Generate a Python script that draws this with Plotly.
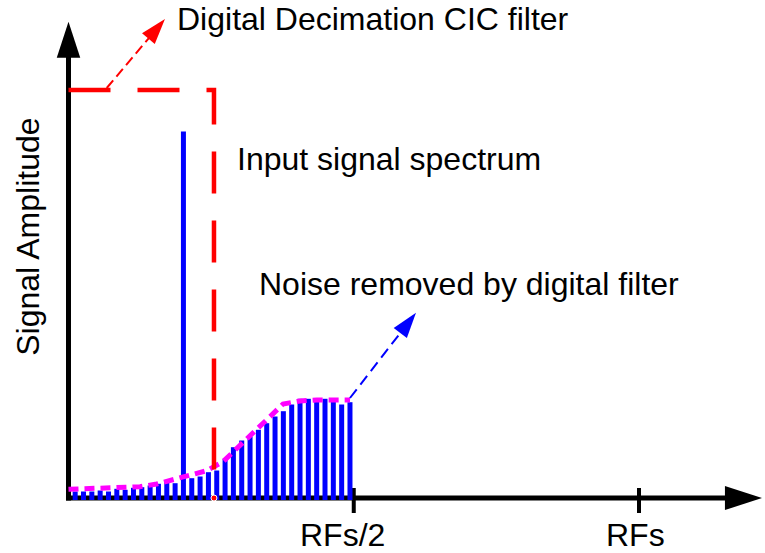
import numpy as np
import plotly.graph_objects as go

# ---------------- data (frequency in units of RFs, amplitude in arbitrary units) -------------
bin_freq = np.linspace(0.0117, 0.4934, 34)          # evenly spaced spectrum bins
bin_amp = [6.5, 6.5, 6.5, 7.5, 6.5, 9.2, 8.2, 10.2, 10.8, 12.5, 14.2, 15.8, 14.8,
           366.5, 19.8, 21.5, 25.8, 27.5, 39.2, 50.8, 57.5, 61.5, 68.2, 74.8, 81.5,
           86.8, 93.5, 99.2, 99.2, 99.2, 99.2, 99.2, 93.5, 95.8]

env_freq = [0.0, 0.0342, 0.0933, 0.1253, 0.1546, 0.1832, 0.2130, 0.2422, 0.2708,
            0.2883, 0.3094, 0.3299, 0.3532, 0.3760, 0.4058, 0.4351, 0.4934]
env_amp = [8.7, 9.3, 10.7, 11.3, 14.0, 18.0, 22.3, 27.3, 36.3, 46.3, 58.0, 68.7,
           81.3, 94.0, 97.0, 98.0, 98.0]

filter_freq = [0.0, 0.2550, 0.2550]
filter_amp = [408.0, 408.0, 0.0]

tick_vals = [0.5, 1.0]
tick_text = ["RFs/2", "RFs"]

# ---------------- layout constants ----------------
W, H = 765, 553
X0_PX, SCALE_PX, BASE_PX = 68.5, 570.5, 498.0
x_range = [-X0_PX / SCALE_PX, (W - X0_PX) / SCALE_PX]
y_range = [BASE_PX - H, BASE_PX]
X_TIP = 1.2156
Y_TIP = 476.3
FONT = dict(family="Liberation Sans, Arial, sans-serif", size=32, color="black")
BLUE, RED, MAG = "#0000FF", "#FF0000", "#FF00FF"

fig = go.Figure()


def arrow_marker(color, size):
    return dict(symbol="arrow", size=[0, size], angleref="previous", color=color,
                opacity=1, line=dict(width=0))


# axes with arrow heads
fig.add_trace(go.Scatter(x=[-0.0044, X_TIP], y=[0, 0], mode="lines+markers",
                         line=dict(color="black", width=5),
                         marker=arrow_marker("black", 39), hoverinfo="skip"))
fig.add_trace(go.Scatter(x=[0, 0], y=[-2.5, Y_TIP], mode="lines+markers",
                         line=dict(color="black", width=5),
                         marker=arrow_marker("black", 38), hoverinfo="skip"))
# tick marks
tx, ty = [], []
for v in tick_vals:
    tx += [v, v, None]
    ty += [-15, 10, None]
fig.add_trace(go.Scatter(x=tx, y=ty, mode="lines", line=dict(color="black", width=4),
                         hoverinfo="skip"))

# spectrum bars
bx, by = [], []
for f, a in zip(bin_freq, bin_amp):
    bx += [f, f, None]
    by += [-2, a, None]
fig.add_trace(go.Scatter(x=bx, y=by, mode="lines", line=dict(color=BLUE, width=5),
                         hoverinfo="skip"))

# noise envelope
fig.add_trace(go.Scatter(x=env_freq, y=env_amp, mode="lines",
                         line=dict(color=MAG, width=5, dash="10px,6px"),
                         hoverinfo="skip"))

# CIC filter response
fig.add_trace(go.Scatter(x=filter_freq, y=filter_amp, mode="lines+markers",
                         line=dict(color=RED, width=4.5, dash="42px,27px"),
                         marker=dict(size=[0, 0, 6], color=RED, opacity=1),
                         hoverinfo="skip"))

# pointer arrows
fig.add_trace(go.Scatter(x=[0.067, 0.1691], y=[410, 479], mode="lines+markers",
                         line=dict(color=RED, width=2, dash="10px,5px"),
                         marker=arrow_marker(RED, 27), hoverinfo="skip"))
fig.add_trace(go.Scatter(x=[bin_freq[-1], 0.6091], y=[100, 185.3], mode="lines+markers",
                         line=dict(color=BLUE, width=2, dash="11px,6px"),
                         marker=arrow_marker(BLUE, 27), hoverinfo="skip"))

annotations = [
    dict(x=0.1895, y=479.1, text="Digital Decimation CIC filter", xanchor="left", yanchor="middle"),
    dict(x=0.2954, y=338.8, text="Input signal spectrum", xanchor="left", yanchor="middle"),
    dict(x=0.3333, y=213.8, text="Noise removed by digital filter", xanchor="left", yanchor="middle"),
    dict(x=-0.0722, y=261.5, text="Signal Amplitude", textangle=-90, xanchor="center", yanchor="middle"),
]
for v, t, sh in zip(tick_vals, tick_text, [-11.5, -3.5]):
    annotations.append(dict(x=v, y=-36.5, text=t, xanchor="center", yanchor="middle", xshift=sh))
for a in annotations:
    a.update(xref="x", yref="y", showarrow=False, font=FONT, borderpad=0, borderwidth=0)

fig.update_layout(
    width=W, height=H, autosize=False,
    margin=dict(l=0, r=0, t=0, b=0, pad=0),
    paper_bgcolor="white", plot_bgcolor="white",
    showlegend=False,
    xaxis=dict(range=x_range, showgrid=False, zeroline=False, showticklabels=False,
               ticks="", showline=False, fixedrange=True),
    yaxis=dict(range=y_range, showgrid=False, zeroline=False, showticklabels=False,
               ticks="", showline=False, fixedrange=True),
    annotations=annotations,
)

fig.write_html("out.html", config={"displayModeBar": False},
               post_script="document.body.style.margin='0';document.body.style.overflow='hidden';")
